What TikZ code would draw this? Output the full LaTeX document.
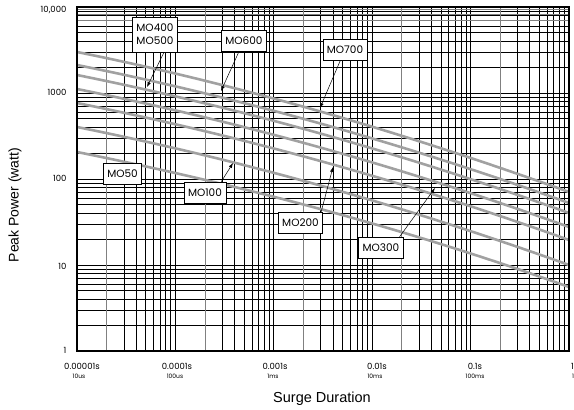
\documentclass[tikz,border=0pt]{standalone}
\usepackage{fontspec}
\setmainfont{Liberation Sans}
\newfontfamily\gothic{Poppins}
\usetikzlibrary{arrows.meta}
\definecolor{curvegray}{gray}{0.63}
\definecolor{gridgray}{gray}{0.5}
\tikzset{
  gridline/.style={black,line width=0.8pt},
  gridlight/.style={gridgray,line width=1pt},
  curve/.style={curvegray,line width=2.6pt},
  frame/.style={black,line width=2pt},
  ylab/.style={anchor=east,font=\gothic\fontsize{8.5}{10}\selectfont},
  xlab/.style={font=\gothic\fontsize{8.5}{10}\selectfont},
  xsub/.style={font=\gothic\fontsize{6}{7}\selectfont},
  mobox/.style={draw=black,fill=white,line width=0.6pt,inner xsep=4pt,inner ysep=0pt,
    minimum height=21pt,font=\gothic\fontsize{10.5}{13}\selectfont},
  pointer/.style={-{Latex[length=5pt,width=3.5pt]},line width=0.5pt}
}
\begin{document}
\begin{tikzpicture}[x=1pt,y=-1pt]
	\useasboundingbox (0,0) rectangle (574,410);
	% log grid
	\foreach \d in {0,...,4}
	  \foreach \k in {1,...,9}
	    \draw[gridline] ({77+98.4*(\d+log10(\k))},7) -- ({77+98.4*(\d+log10(\k))},351);
	\foreach \e in {0,...,3}
	  \foreach \k in {1,...,9}
	    \draw[gridline] (77,{351-86*(\e+log10(\k))}) -- (569,{351-86*(\e+log10(\k))});
	\foreach \d in {0,...,4}
	  \draw[gridlight] ({77+98.4*(\d+0.30103)},7) -- ({77+98.4*(\d+0.30103)},351);
	\draw[gridlight] (77,9.3) -- (569,9.3);
	\draw[gridlight] (77,14) -- (569,14);
	\draw[gridlight] (77,20) -- (569,20);

	% power curves
	\foreach \l/\r in {52/192,65/203,75/213,89/227,103/240,127/265,152/287}
	  \draw[curve] (77,\l) .. controls (241,{\l+33}) and (405,{\r-59}) .. (569,\r);

	\draw[frame] (77,7) rectangle (569,351);

	\node[ylab] (y4) at (70,10) {10,000};
	\node[ylab] (y3) at (70,92) {1000};
	\node[ylab] (y2) at (70,178) {100};
	\node[ylab] (y1) at (70,266) {10};
	\node[ylab] (y0) at (70,350) {1};

	\node[xlab] (x0) at (82,366) {0.00001s};
	\node[xlab] (x1) at (177,366) {0.0001s};
	\node[xlab] (x2) at (275,366) {0.001s};
	\node[xlab] (x3) at (377,366) {0.01s};
	\node[xlab] (x4) at (475,366) {0.1s};
	\node[xlab,anchor=west] (x5) at (567.5,366) {1s};
	\node[xsub] (s0) at (79,376) {10us};
	\node[xsub] (s1) at (175,376) {100us};
	\node[xsub] (s2) at (273,376) {1ms};
	\node[xsub] (s3) at (375,376) {10ms};
	\node[xsub] (s4) at (475,376) {100ms};
	\node[xsub,anchor=west] (s5) at (568.5,376) {1s};

	\node[rotate=90,font=\fontsize{14}{16}\selectfont] (ytitle) at (15,205) {Peak Power (watt)};
	\node[font=\fontsize{14.5}{16}\selectfont] (xtitle) at (322,399) {Surge Duration};

	% labels
	\node[mobox,align=center,minimum height=35pt] (mo400) at (155,34.5) {MO400\\MO500};
	\node[mobox] (mo600) at (244,40.5) {MO600};
	\node[mobox] (mo700) at (345,49.5) {MO700};
	\node[mobox] (mo50) at (122.5,173.5) {MO50};
	\node[mobox] (mo100) at (205,192.5) {MO100};
	\node[mobox] (mo200) at (300.5,223) {MO200};
	\node[mobox] (mo300) at (381,247.5) {MO300};

	\coordinate (t400) at (147,87);
	\coordinate (t600) at (221,91);
	\coordinate (t700) at (320,108);
	\coordinate (t100) at (233,163);
	\coordinate (t200) at (333,167);
	\coordinate (t300) at (435,188);

	\draw[pointer] ([xshift=9pt]mo400.south) -- (t400);
	\draw[pointer] (mo600) -- (t600);
	\draw[pointer] (mo700) -- (t700);
	\draw[pointer] ([xshift=-5pt]mo100.north east) -- (t100);
	\draw[pointer] ([xshift=-2pt]mo200.north east) -- (t200);
	\draw[pointer] ([xshift=-4pt]mo300.north east) -- (t300);
\end{tikzpicture}
\end{document}
